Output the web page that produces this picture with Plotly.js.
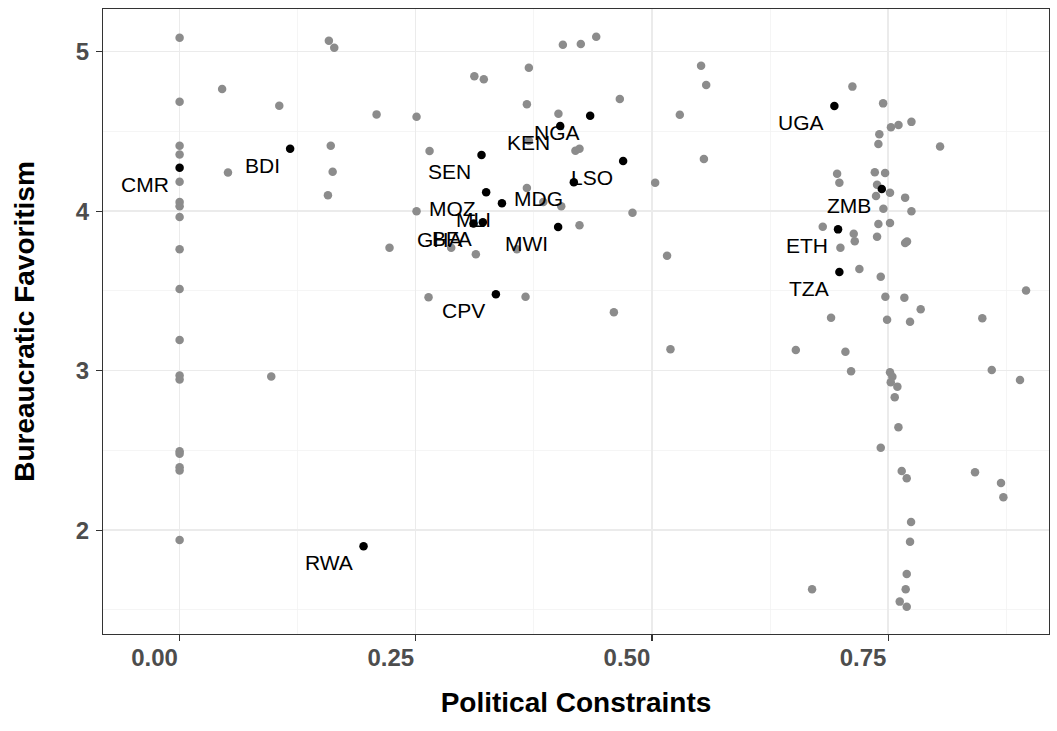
<!DOCTYPE html>
<html><head><meta charset="utf-8">
<script src="https://cdn.plot.ly/plotly-3.0.1.min.js"></script>
<style>html,body{margin:0;padding:0;background:#fff}</style>
</head><body><div id="chart" style="width:1057px;height:731px"></div>
<script>
// Grey points: other country-years (Political Constraints, Bureaucratic Favoritism)
const grayX = [
  0,0,0,0,0,0,0,0,0,0,0,0,0,0,0,0,0,0,
  0.045,0.1055,0.158,0.1637,0.0512,0.160,0.162,0.157,0.097,
  0.4057,0.4247,0.441,0.312,0.322,0.3697,0.2085,0.2508,0.3676,0.401,0.466,0.3697,0.419,0.4233,0.2646,
  0.5034,0.3676,0.385,0.404,0.2508,0.4794,0.4233,0.2222,0.2875,0.3136,0.357,0.2635,0.3662,0.4597,
  0.552,0.5574,0.5295,0.555,0.516,0.5196,
  0.7122,0.7447,0.7407,0.7397,0.753,0.761,0.7747,0.805,0.696,0.6984,0.7359,0.7468,0.7383,0.7372,
  0.752,0.768,0.745,0.7747,0.7397,0.752,0.6808,0.7136,0.7147,0.7383,0.770,0.768,0.6995,0.7196,
  0.7422,0.7471,0.7672,0.7845,0.6896,0.7489,0.7732,0.8497,0.896,0.6523,0.7048,0.7108,0.752,0.7545,
  0.7528,0.7598,0.757,0.7609,0.7422,0.7644,0.7697,0.842,0.8597,0.8896,0.8695,0.872,0.7743,0.7732,
  0.7697,0.7686,0.7623,0.7697,0.6695
];
const grayY = [
  5.088,4.686,4.41,4.356,4.184,4.058,4.031,3.964,3.761,3.512,3.192,2.97,2.945,2.495,2.479,2.395,2.374,1.939,
  4.766,4.661,5.069,5.025,4.243,4.41,4.247,4.10,2.964,
  5.044,5.048,5.094,4.846,4.827,4.9,4.607,4.592,4.67,4.611,4.703,4.441,4.379,4.391,4.377,
  4.178,4.146,4.058,4.031,4.0,3.99,3.912,3.771,3.771,3.73,3.761,3.46,3.464,3.366,
  4.912,4.791,4.605,4.327,3.721,3.134,
  4.781,4.676,4.482,4.421,4.527,4.54,4.56,4.405,4.235,4.178,4.244,4.24,4.166,4.095,
  4.116,4.085,4.016,4.0,3.92,3.926,3.903,3.859,3.811,3.84,3.81,3.80,3.771,3.638,
  3.589,3.464,3.458,3.385,3.332,3.32,3.307,3.329,3.502,3.13,3.119,2.996,2.99,2.962,
  2.927,2.9,2.833,2.645,2.517,2.371,2.325,2.363,3.004,2.942,2.296,2.206,2.051,1.928,
  1.725,1.63,1.552,1.52,1.629
];
// Highlighted countries
const hiCodes = ['CMR','BDI','RWA','SEN','KEN','NGA','LSO','MDG','MOZ','MLI','GHA','BFA','MWI','CPV','UGA','ZMB','ETH','TZA'];
const hiX = [0,0.117,0.1947,0.3196,0.4029,0.4346,0.4695,0.4173,0.3245,0.3412,0.3111,0.321,0.4007,0.3348,0.6931,0.7433,0.697,0.6984];
const hiY = [4.272,4.391,1.899,4.352,4.534,4.598,4.314,4.182,4.119,4.05,3.923,3.931,3.901,3.479,4.66,4.139,3.886,3.619];

const xTickVals = [0,0.25,0.5,0.75];
const xTickText = ['0.00','0.25','0.50','0.75'];
const xMinorVals = [0.125,0.375,0.625,0.875];
const yTickVals = [2,3,4,5];
const yTickText = ['2','3','4','5'];
const yMinorVals = [1.5,2.5,3.5,4.5];

const FONT = '"Liberation Sans", Arial, Helvetica, sans-serif';

const traces = [
  {x: grayX, y: grayY, type: 'scatter', mode: 'markers',
   marker: {color: '#8c8c8c', size: 8.5, line: {width: 0}}, hoverinfo: 'skip'},
  {x: hiX, y: hiY, type: 'scatter', mode: 'markers', text: hiCodes,
   marker: {color: '#000000', size: 8.5, line: {width: 0}}}
];

const annotations = hiCodes.map((c, i) => ({
  x: hiX[i], y: hiY[i], xref: 'x', yref: 'y', text: c, showarrow: false,
  xanchor: 'right', yanchor: 'top', xshift: -8.5, yshift: -3,
  font: {family: FONT, size: 21, color: '#000000'}
}));

const axisCommon = {
  showline: true, linecolor: '#333333', linewidth: 1.1, mirror: true,
  ticks: 'outside', ticklen: 6, tickcolor: '#333333', tickwidth: 1.1,
  showgrid: true, gridcolor: '#ebebeb', gridwidth: 1.4, zeroline: false,
  tickfont: {family: FONT, size: 24, color: '#4d4d4d', weight: 'bold'},
  automargin: false
};

const layout = {
  width: 1057, height: 731,
  margin: {l: 103, r: 8, t: 9, b: 97},
  paper_bgcolor: '#ffffff', plot_bgcolor: '#ffffff',
  showlegend: false,
  font: {family: FONT},
  xaxis: Object.assign({}, axisCommon, {
    range: [-0.0811, 0.9203], tickmode: 'array', tickvals: xTickVals, ticktext: xTickText,
    ticklabelshift: -25, ticklabelstandoff: -4,
    minor: {tickmode: 'array', tickvals: xMinorVals, showgrid: true, gridcolor: '#f2f2f2', gridwidth: 0.8, ticks: ''},
    title: {text: 'Political Constraints', font: {family: FONT, size: 28, color: '#000000', weight: 'bold'}, standoff: 22}
  }),
  yaxis: Object.assign({}, axisCommon, {
    range: [1.349, 5.2677], tickmode: 'array', tickvals: yTickVals, ticktext: yTickText,
    ticklabelstandoff: 2,
    minor: {tickmode: 'array', tickvals: yMinorVals, showgrid: true, gridcolor: '#f2f2f2', gridwidth: 0.8, ticks: ''},
    title: {text: 'Bureaucratic Favoritism', font: {family: FONT, size: 28, color: '#000000', weight: 'bold'}, standoff: 32}
  }),
  annotations: annotations
};

Plotly.newPlot('chart', traces, layout, {displayModeBar: false, staticPlot: true});
</script>
</body></html>
